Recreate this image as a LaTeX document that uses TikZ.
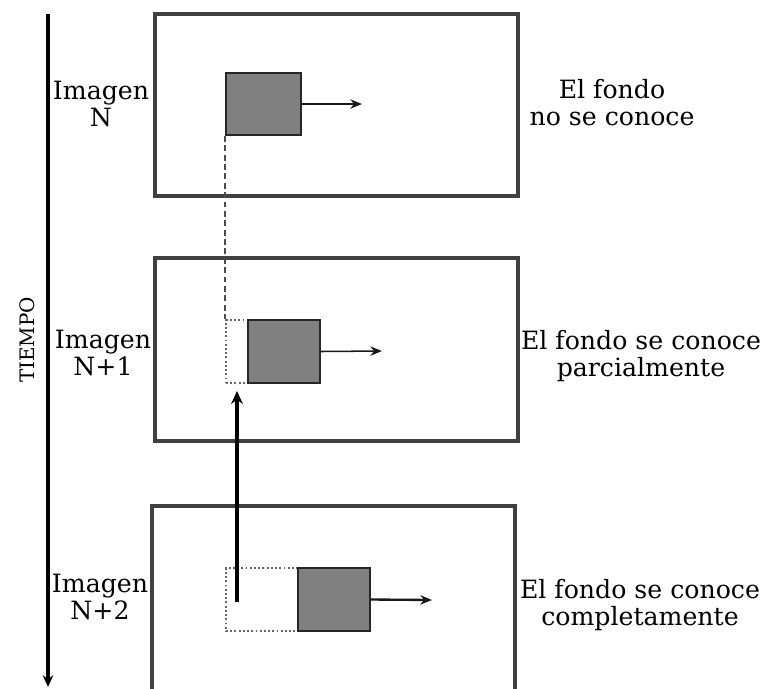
\documentclass[tikz,border=0pt]{standalone}
\usepackage{fontspec}
\setmainfont{DejaVu Serif}
\usetikzlibrary{arrows.meta,fit}
\tikzset{
  frame/.style={draw=black!75, line width=2.8pt, inner sep=0pt},
  obj/.style={draw=black!85, fill=black!50, line width=1.6pt, inner sep=0pt},
  ghost/.style={draw=black!60, dotted, line width=1.6pt, inner sep=0pt},
  lbl/.style={align=center, font=\fontsize{21.5}{23}\selectfont, inner sep=0pt},
  mov/.style={-{Stealth[length=10pt,width=8pt]}, line width=2pt, black!90},
  axis/.style={-{Stealth[length=10pt,width=9pt]}, line width=2.6pt},
  trace/.style={dash pattern=on 5pt off 3pt, line width=1.5pt, black!70},
  back/.style={-{Stealth[length=11pt,width=10pt]}, line width=4.2pt}
}
\begin{document}
\begin{tikzpicture}[x=0.03cm,y=-0.03cm]
\clip (0,0) rectangle (767,688);
% time axis
\coordinate (t0) at (48,14);
\coordinate (t1) at (48,687);
\draw[axis] (t0) -- (t1);
\node[lbl, font=\fontsize{17}{20}\selectfont, rotate=90] (tiempo) at (27,340) {TIEMPO};
% frames
\coordinate (f1a) at (155,14);  \coordinate (f1b) at (518,196);
\coordinate (f2a) at (155,258); \coordinate (f2b) at (518,441);
\coordinate (f3a) at (152,506); \coordinate (f3b) at (515,720);
\node[frame, fit=(f1a)(f1b)] (box1) {};
\node[frame, fit=(f2a)(f2b)] (box2) {};
\node[frame, fit=(f3a)(f3b)] (box3) {};
% objects
\coordinate (s1a) at (226,73);  \coordinate (s1b) at (301,135);
\node[obj, fit=(s1a)(s1b)] (sq1) {};
\coordinate (g2a) at (226,320); \coordinate (g2b) at (248,383);
\node[ghost, fit=(g2a)(g2b)] (gh2) {};
\coordinate (s2a) at (248,320); \coordinate (s2b) at (320,383);
\node[obj, fit=(s2a)(s2b)] (sq2) {};
\coordinate (g3a) at (226,568); \coordinate (g3b) at (298,631);
\node[ghost, fit=(g3a)(g3b)] (gh3) {};
\coordinate (s3a) at (298,568); \coordinate (s3b) at (370,631);
\node[obj, fit=(s3a)(s3b)] (sq3) {};
% motion arrows
\coordinate (m1) at (362,104);
\coordinate (m2) at (382,351);
\coordinate (m3) at (432,600);
\draw[mov] (sq1.east) -- (m1);
\draw[mov, line width=1.3pt] (sq2.east) -- (m2);
\draw[mov] (sq3.east) -- (m3);
% dashed trace
\draw[trace] (sq1.south west) -- (gh2.north west);
% back arrow
\coordinate (b0) at (237,602);
\coordinate (b1) at (237,391);
\draw[back] (b0) -- (b1);
% labels
\node[lbl] (im1) at (101,104) {Imagen\\N};
\node[lbl] (im2) at (103,353) {Imagen\\N+1};
\node[lbl] (im3) at (100,597) {Imagen\\N+2};
\node[lbl] (r1) at (612,103) {El fondo\\no se conoce};
\node[lbl] (r2) at (641,356) {El fondo se conoce\\parcialmente};
\node[lbl] (r3) at (640,605) {El fondo se conoce\\completamente};
\end{tikzpicture}
\end{document}
